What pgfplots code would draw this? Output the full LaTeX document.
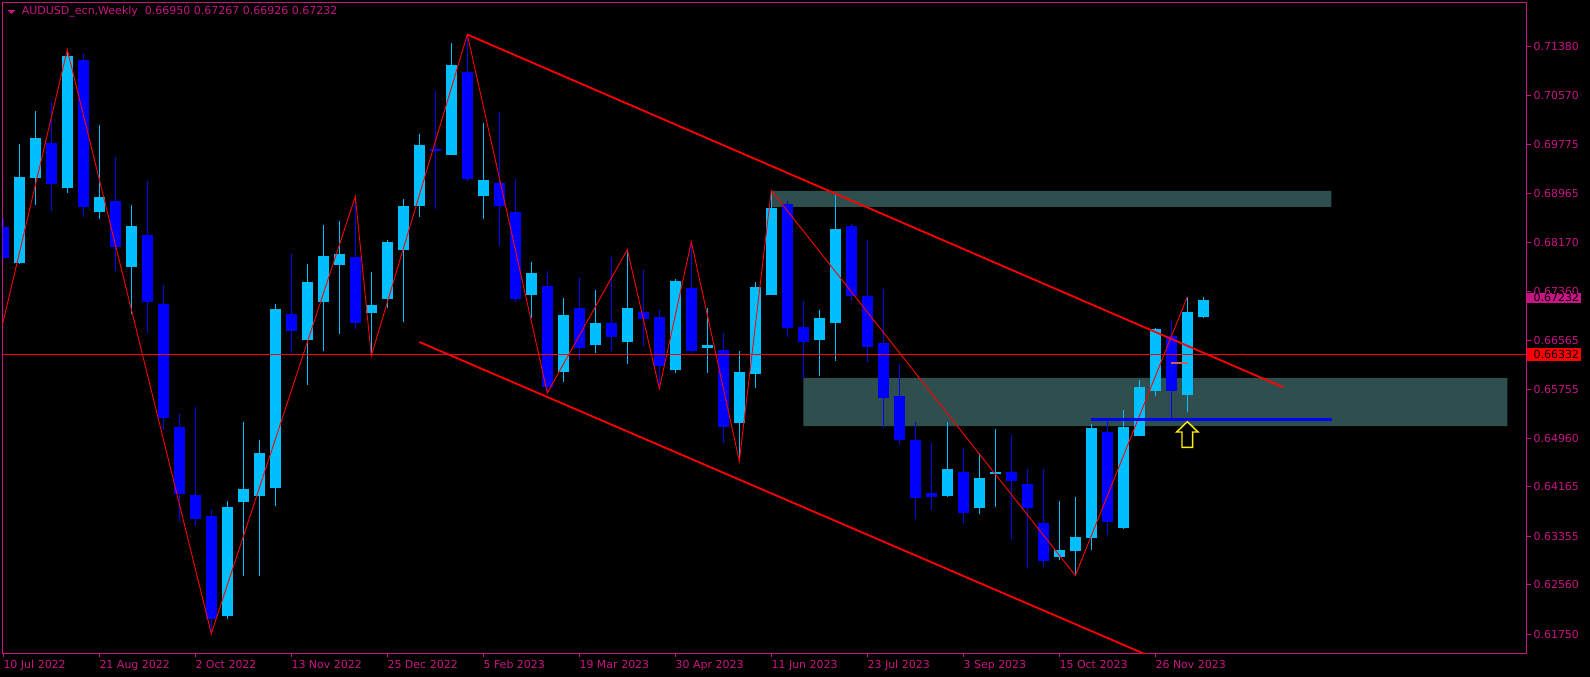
\documentclass[border=0pt]{standalone}
\usepackage{pgfplots}
\pgfplotsset{compat=1.18}
\usepackage{pgfplotstable}
\usepackage{fontspec}
\setmainfont{DejaVu Sans}
\definecolor{mvr}{RGB}{199,21,133}
\definecolor{lb}{RGB}{0,191,255}
\definecolor{db}{RGB}{0,0,255}
\definecolor{dsg}{RGB}{47,79,79}
\definecolor{ind}{RGB}{205,92,92}

% bullish candles: index open high low close
\pgfplotstableread{
i o h l c
1 0.67824 0.69782 0.67809 0.69238
2 0.69224 0.70319 0.68778 0.69874
4 0.69061 0.71323 0.68969 0.71217
6 0.68665 0.70086 0.68552 0.68912
8 0.67767 0.68778 0.66989 0.68439
14 0.62047 0.63935 0.62005 0.63836
15 0.63914 0.65229 0.62712 0.64126
16 0.64013 0.64932 0.62712 0.64720
17 0.64154 0.67166 0.63857 0.67074
19 0.66572 0.67816 0.65837 0.67520
20 0.67194 0.68453 0.66388 0.67944
21 0.67802 0.68516 0.66671 0.67979
23 0.67018 0.67682 0.66310 0.67145
24 0.67244 0.68212 0.67102 0.68177
25 0.68050 0.68877 0.66869 0.68764
26 0.68757 0.69945 0.68587 0.69761
28 0.69605 0.71430 0.69605 0.71069
30 0.68934 0.70121 0.68559 0.69188
33 0.67307 0.67845 0.66926 0.67668
35 0.66049 0.67258 0.65886 0.66975
37 0.66494 0.67385 0.66353 0.66848
39 0.66544 0.68050 0.66176 0.67095
42 0.66077 0.67576 0.66035 0.67534
44 0.66445 0.67095 0.66035 0.66487
46 0.65215 0.66388 0.64585 0.66042
47 0.66021 0.67520 0.65787 0.67435
48 0.67307 0.69018 0.67307 0.68722
51 0.66572 0.67060 0.65978 0.66926
52 0.66841 0.68941 0.66233 0.68389
59 0.64013 0.65229 0.63998 0.64458
61 0.63815 0.64727 0.63723 0.64310
62 0.64373 0.65116 0.63843 0.64408
66 0.63009 0.63935 0.62966 0.63129
67 0.63115 0.63998 0.62712 0.63341
68 0.63327 0.65186 0.63129 0.65130
70 0.63489 0.65420 0.63482 0.65144
71 0.64995 0.65915 0.64995 0.65801
72 0.65731 0.66763 0.65653 0.66749
74 0.65667 0.67279 0.65398 0.67025
75 0.66950 0.67267 0.66926 0.67232
}\up

% bearish candles: index open high low close
\pgfplotstableread{
i o h l c
0 0.68417 0.68552 0.67894 0.67915
3 0.69796 0.70461 0.68679 0.69117
5 0.71147 0.71253 0.68587 0.68750
7 0.68842 0.69563 0.67696 0.68085
9 0.68290 0.69174 0.66685 0.67194
10 0.67159 0.67470 0.65094 0.65285
11 0.65151 0.65363 0.63602 0.64041
12 0.64034 0.65469 0.63525 0.63631
13 0.63687 0.63793 0.61760 0.62005
18 0.66996 0.67979 0.66353 0.66713
22 0.67930 0.68919 0.66742 0.66855
27 0.69697 0.70645 0.68707 0.69676
29 0.70956 0.71571 0.69181 0.69209
31 0.69139 0.70305 0.68113 0.68771
32 0.68665 0.69202 0.67187 0.67244
34 0.67456 0.67696 0.65702 0.65808
36 0.67095 0.67583 0.66247 0.66431
38 0.66848 0.67930 0.66388 0.66614
40 0.67025 0.67717 0.66480 0.66919
41 0.66947 0.67060 0.65773 0.66148
43 0.67421 0.68177 0.66353 0.66388
45 0.66402 0.66685 0.64889 0.65144
49 0.68799 0.68842 0.66622 0.66770
50 0.66784 0.67208 0.65936 0.66544
53 0.68439 0.68467 0.67201 0.67286
54 0.67286 0.68212 0.66211 0.66459
55 0.66523 0.67406 0.65137 0.65625
56 0.65653 0.66176 0.64847 0.64932
57 0.64925 0.65229 0.63631 0.63984
58 0.64062 0.64889 0.63786 0.63998
60 0.64408 0.64797 0.63560 0.63730
63 0.64408 0.65009 0.63298 0.64267
64 0.64211 0.64465 0.62839 0.63815
65 0.63574 0.64465 0.62853 0.62952
69 0.65059 0.65229 0.63376 0.63588
73 0.66636 0.66904 0.65278 0.65731
}\down

\begin{document}
\begin{tikzpicture}[x=1pt,y=1pt]
\fill[black] (0,0) rectangle (1590,677);
\begin{axis}[
  at={(2.7pt,23.7pt)}, anchor=south west, scale only axis,
  width=1524pt, height=650.7pt,
  xmin=-0.0375, xmax=95.21, ymin=0.614388, ymax=0.720941,
  axis line style={mvr, line width=1pt},
  xtick={0,6,12,18,24,30,36,42,48,54,60,66,72},
  xticklabels={10 Jul 2022, 21 Aug 2022, 2 Oct 2022, 13 Nov 2022, 25 Dec 2022, 5 Feb 2023, 19 Mar 2023, 30 Apr 2023, 11 Jun 2023, 23 Jul 2023, 3 Sep 2023, 15 Oct 2023, 26 Nov 2023},
  ytick={0.61750,0.62560,0.63355,0.64165,0.64960,0.65755,0.66565,0.67360,0.68170,0.68965,0.69775,0.70570,0.71380},
  yticklabels={0.61750,0.62560,0.63355,0.64165,0.64960,0.65755,0.66565,0.67360,0.68170,0.68965,0.69775,0.70570,0.71380},
  scaled y ticks=false, scaled x ticks=false,
  xtick pos=bottom, ytick pos=right, yticklabel pos=right,
  tick align=outside, major tick length=4pt,
  tick style={mvr, line width=1pt},
  ticklabel style={font=\fontsize{11}{13}\selectfont, text=mvr, inner sep=0pt},
  xticklabel style={anchor=north west, xshift=0pt, yshift=-2.5pt},
  yticklabel style={anchor=west, xshift=2.6pt},
  clip=true,
]
% zones
\addplot[fill=dsg, draw=none, forget plot] coordinates {(48,0.68750) (83,0.68750) (83,0.69011) (48,0.69011) (48,0.68750)};
\addplot[fill=dsg, draw=none, forget plot] coordinates {(50,0.65158) (94,0.65158) (94,0.65950) (50,0.65950) (50,0.65158)};
% wicks
\addplot[draw=none, mark=none, forget plot, error bars/.cd, y dir=both, y explicit, error mark=none,
  error bar style={draw=lb, line width=1pt}]
  table[x=i, y expr={(\thisrow{h}+\thisrow{l})/2}, y error expr={(\thisrow{h}-\thisrow{l})/2}] {\up};
\addplot[draw=none, mark=none, forget plot, error bars/.cd, y dir=both, y explicit, error mark=none,
  error bar style={draw=db, line width=1pt}]
  table[x=i, y expr={(\thisrow{h}+\thisrow{l})/2}, y error expr={(\thisrow{h}-\thisrow{l})/2}] {\down};
% bodies
\addplot[draw=none, mark=none, forget plot, error bars/.cd, y dir=both, y explicit, error mark=none,
  error bar style={draw=lb, line width=11pt}]
  table[x=i, y expr={(\thisrow{o}+\thisrow{c})/2}, y error expr={(\thisrow{c}-\thisrow{o})/2}] {\up};
\addplot[draw=none, mark=none, forget plot, error bars/.cd, y dir=both, y explicit, error mark=none,
  error bar style={draw=db, line width=11pt}]
  table[x=i, y expr={(\thisrow{o}+\thisrow{c})/2}, y error expr={(\thisrow{o}-\thisrow{c})/2}] {\down};
% horizontal level
\addplot[red, line width=1.3pt, forget plot] coordinates {(-1,0.66332) (96,0.66332)};
% channel
\addplot[red, line width=1.8pt, forget plot] coordinates {(29,0.71571) (80,0.65794)};
\addplot[red, line width=1.8pt, forget plot] coordinates {(26,0.66537) (72.5,0.61296)};
% zigzag
\addplot[red, line width=0.9pt, forget plot] coordinates {
(-0.04,0.66834) (4,0.71323) (13,0.61760) (22,0.68919) (23,0.66310) (29,0.71571)
(34,0.65702) (39,0.68050) (41,0.65773) (43,0.68177) (46,0.64585) (48,0.69018)
(67,0.62712) (74,0.67279)};
% blue support line
\addplot[db, line width=2.5pt, forget plot] coordinates {(68,0.65271) (83.06,0.65271)};
% small dash
\addplot[ind, line width=2pt, forget plot] coordinates {(73.0,0.66190) (74.06,0.66190)};
% arrow
\addplot[draw=yellow, fill=black, line width=1.4pt, line join=miter, forget plot] coordinates {
(74,0.65231) (74.667,0.65063) (74.333,0.65063) (74.333,0.64812) (73.667,0.64812) (73.667,0.65063) (73.333,0.65063)} -- cycle;
\end{axis}
% price boxes
\fill[mvr] (1527.2,373.7) rectangle (1580.7,384.3);
\node[anchor=west, inner sep=0pt, text=black, font=\fontsize{11}{13}\selectfont] at (1533.3,379) {0.67232};
\fill[red] (1527.2,316.3) rectangle (1580.7,329.3);
\node[anchor=west, inner sep=0pt, text=black, font=\fontsize{11}{13}\selectfont] at (1533.3,322.8) {0.66332};
% title
\fill[mvr] (7.3,667) -- (15.3,667) -- (11.3,663) -- cycle;
\node[anchor=west, inner sep=0pt, text=mvr, font=\fontsize{11}{13}\selectfont] at (21.7,665) {AUDUSD\_ecn,Weekly\ \ 0.66950 0.67267 0.66926 0.67232};
\pgfresetboundingbox
\path[use as bounding box] (0,0) rectangle (1590,677);
\end{tikzpicture}
\end{document}
